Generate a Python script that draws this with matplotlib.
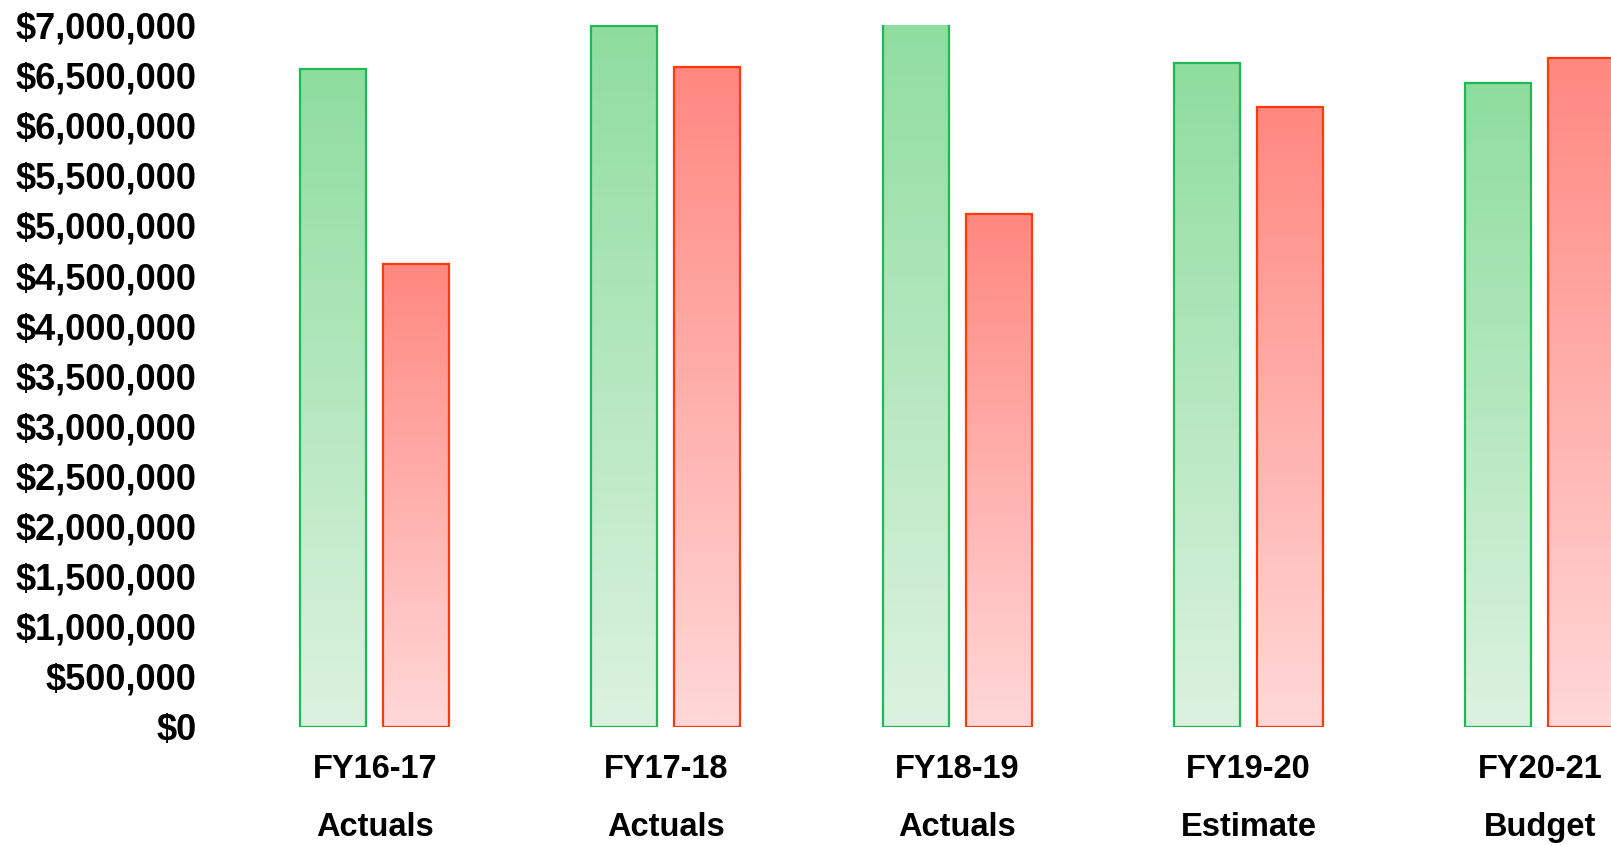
import numpy as np
import matplotlib
matplotlib.use("Agg")
import matplotlib.pyplot as plt
from matplotlib.colors import LinearSegmentedColormap
from matplotlib.ticker import FuncFormatter, MultipleLocator
from matplotlib.patches import Rectangle

# ---- data ----
years = ["FY16-17", "FY17-18", "FY18-19", "FY19-20", "FY20-21"]
kinds = ["Actuals", "Actuals", "Actuals", "Estimate", "Budget"]
revenues = [6565000, 6995000, 7150000, 6618000, 6425000]
expenses = [4615000, 6585000, 5114000, 6180000, 6674000]

plt.rcParams['font.family'] = ['Liberation Sans', 'DejaVu Sans']

W, H = 1611, 846
fig = plt.figure(figsize=(W / 100, H / 100), dpi=100)
left_px, right_px = 229, 1611
bottom_px, top_px = 846 - 726.5, 846 - 25
ax = fig.add_axes([left_px / W, bottom_px / H, (right_px - left_px) / W, (top_px - bottom_px) / H])

group_px = 291.3
xmin = -0.5
xmax = xmin + (right_px - left_px) / group_px
bw = 66 / group_px
off = 41.5 / group_px
ytop = 7000000

green_cmap = LinearSegmentedColormap.from_list("g", ["#DCF2E0", "#8EDD9E"])
red_cmap = LinearSegmentedColormap.from_list("r", ["#FFD8D8", "#FF8880"])

x = np.arange(len(years))
grad = np.linspace(0, 1, 256).reshape(-1, 1)

for vals, dx, cmap, ec in [(revenues, -off, green_cmap, "#1DB954"), (expenses, off, red_cmap, "#FF3A10")]:
    bars = ax.bar(x + dx, vals, width=bw, facecolor="none", edgecolor=ec, linewidth=1.6, zorder=3)
    for b, v in zip(bars, vals):
        x0 = b.get_x()
        im = ax.imshow(grad, cmap=cmap, origin="lower", aspect="auto",
                       extent=(x0, x0 + bw, 0, v), zorder=2, interpolation="bilinear")
        clip = Rectangle((x0, 0), bw, min(v, ytop), transform=ax.transData)
        im.set_clip_path(clip)

ax.set_xlim(xmin, xmax)
ax.set_ylim(0, ytop)
ax.yaxis.set_major_locator(MultipleLocator(500000))
ax.yaxis.set_major_formatter(FuncFormatter(lambda v, p: "${:,.0f}".format(v)))
ax.set_xticks(x)
ax.set_xticklabels([f"{a}\n{b}" for a, b in zip(years, kinds)], linespacing=2.1)
for s in ax.spines.values():
    s.set_visible(False)
ax.tick_params(axis="both", length=0)
ax.tick_params(axis="y", pad=23.5, labelsize=26)
ax.tick_params(axis="x", pad=20, labelsize=23.5)
for lab in ax.get_xticklabels() + ax.get_yticklabels():
    lab.set_fontweight("bold")

fig.savefig("out.png", dpi=100)
